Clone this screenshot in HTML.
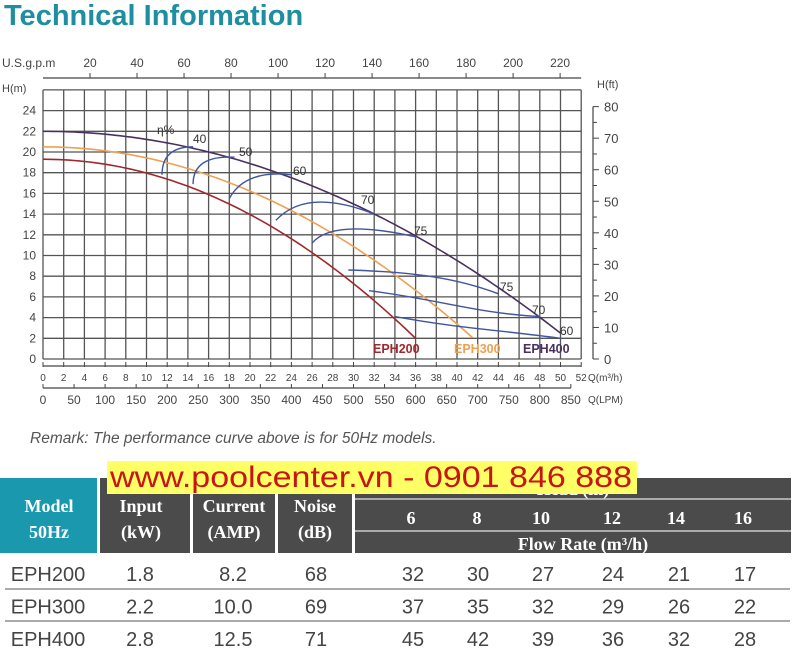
<!DOCTYPE html>
<html><head><meta charset="utf-8"><style>
body{margin:0;background:#fff;}
svg{display:block;font-family:"Liberation Sans",sans-serif;}
</style></head><body>
<svg id="s" width="800" height="658" viewBox="0 0 800 658" xmlns="http://www.w3.org/2000/svg">
<text x="4" y="25" font-size="29" font-weight="bold" fill="#1e8fa0">Technical Information</text>
<g id="g"></g>
<text x="30" y="443" font-size="15.5" font-style="italic" fill="#555">Remark: The performance curve above is for 50Hz models.</text>
<!-- table header -->
<rect x="0" y="478" width="97" height="75" fill="#1a98ad"/>
<rect x="100" y="478" width="90" height="75" fill="#4b4b4b"/>
<rect x="193" y="478" width="82" height="75" fill="#4b4b4b"/>
<rect x="278" y="478" width="74" height="75" fill="#4b4b4b"/>
<rect x="355" y="478" width="436" height="75" fill="#4b4b4b"/>
<rect x="355" y="498" width="436" height="2" fill="#aaa"/>
<rect x="355" y="530" width="436" height="2" fill="#aaa"/>
<g font-family="Liberation Serif,serif" font-weight="bold" font-size="18" fill="#fff" text-anchor="middle">
<text x="49" y="512">Model</text><text x="49" y="538">50Hz</text>
<text x="141" y="512">Input</text><text x="141" y="538">(kW)</text>
<text x="234" y="512">Current</text><text x="234" y="538">(AMP)</text>
<text x="315" y="512">Noise</text><text x="315" y="538">(dB)</text>
<text x="573" y="495">Head (m)</text>
<text x="411" y="524">6</text><text x="477" y="524">8</text><text x="541" y="524">10</text><text x="612" y="524">12</text><text x="676" y="524">14</text><text x="743" y="524">16</text>
<text x="583" y="550">Flow Rate (m³/h)</text>
</g>
<rect x="107" y="461" width="530" height="33" fill="#ffff66"/>
<text x="110" y="487" font-size="30" fill="#c81414" textLength="522" lengthAdjust="spacingAndGlyphs">www.poolcenter.vn - 0901 846 888</text>
<rect x="5" y="588" width="785" height="2" fill="#aaa"/>
<rect x="5" y="620" width="785" height="2" fill="#aaa"/>
<g id="rows" font-size="20" fill="#444" text-anchor="middle"></g>
</svg>
<script>
const NS="http://www.w3.org/2000/svg";
const g=document.getElementById('g');
function el(t,a,p){const e=document.createElementNS(NS,t);for(const k in a)e.setAttribute(k,a[k]);(p||g).appendChild(e);return e;}
function tx(x,y,s,a){const e=el('text',Object.assign({x:x,y:y},a||{}));e.textContent=s;return e;}
const X=q=>43+q*10.35, Y=h=>359-h*10.35;
// grid
for(let q=0;q<=52;q+=2) el('line',{x1:X(q),y1:Y(26),x2:X(q),y2:Y(0),stroke:'#555','stroke-width':1.3});
for(let h=0;h<=26;h+=2) el('line',{x1:X(0),y1:Y(h),x2:X(52),y2:Y(h),stroke:'#555','stroke-width':1.3});
// left labels
for(let h=0;h<=24;h+=2) tx(36,Y(h)+4,h,{'font-size':12,fill:'#444','text-anchor':'end'});
tx(2,92,'H(m)',{'font-size':11,fill:'#444'});
// top axis
el('line',{x1:X(0),y1:78,x2:X(52),y2:78,stroke:'#444','stroke-width':1.2});
tx(2,67,'U.S.g.p.m',{'font-size':12,fill:'#444'});
for(let g2=20;g2<=220;g2+=20){const x=X(g2*0.2271);el('line',{x1:x,y1:73,x2:x,y2:78,stroke:'#444'});tx(x,67,g2,{'font-size':12,fill:'#444','text-anchor':'middle'});}
// bottom m3/h
el('line',{x1:X(0),y1:366,x2:X(52),y2:366,stroke:'#444','stroke-width':1.2});
for(let q=0;q<=52;q+=2){el('line',{x1:X(q),y1:362,x2:X(q),y2:367,stroke:'#444'});tx(X(q),381,q,{'font-size':10,fill:'#444','text-anchor':'middle'});}
tx(588,381,'Q(m³/h)',{'font-size':10,fill:'#444'});
el('line',{x1:X(0),y1:388,x2:X(850/16.667),y2:388,stroke:'#444','stroke-width':1.2});
for(let l=0;l<=850;l+=50){const x=X(l/16.667);el('line',{x1:x,y1:384,x2:x,y2:388,stroke:'#444'});tx(x,404,l,{'font-size':12,fill:'#444','text-anchor':'middle'});}
tx(588,403,'Q(LPM)',{'font-size':10,fill:'#444'});
// right ft axis
el('line',{x1:593,y1:Y(80*0.3048),x2:593,y2:Y(0),stroke:'#444','stroke-width':1.2});
tx(597,88,'H(ft)',{'font-size':11,fill:'#444'});
for(let f=0;f<=80;f+=5){const y=Y(f*0.3048);el('line',{x1:593,y1:y,x2:f%10?597:599,y2:y,stroke:'#444'});if(f%10==0)tx(604,y+5,f,{'font-size':13,fill:'#444'});}
// pump curves
function curve(h0,k,qe,col){let d='';for(let q=0;q<=qe+0.01;q+=0.5){d+=(q?'L':'M')+X(q).toFixed(1)+','+Y(h0-k*q*q).toFixed(1);}el('path',{d:d,fill:'none',stroke:col,'stroke-width':1.6});}
curve(22,0.0078,50,'#4a3060');
curve(20.5,0.0107,41.5,'#f0a050');
curve(19.3,0.01335,36,'#a0282c');
// efficiency curves
const B='#4055a0';
function qp(a,c,b){el('path',{d:`M${X(a[0])},${Y(a[1])} Q${X(c[0])},${Y(c[1])} ${X(b[0])},${Y(b[1])}`,fill:'none',stroke:B,'stroke-width':1.4});}
qp([11.5,17.8],[11.5,20.5],[14.5,20.5]);
qp([14.5,16.9],[14.5,19.7],[18.5,19.5]);
qp([18,15.5],[19.5,18.3],[24,17.8]);
qp([22.5,13.4],[25.5,16.6],[32,14]);
qp([26,11.2],[28,13.6],[36,11.8]);
el('path',{d:`M${X(29.5)},${Y(8.6)} C${X(36)},${Y(8.4)} ${X(40)},${Y(7.8)} ${X(44)},${Y(6.3)}`,fill:'none',stroke:B,'stroke-width':1.4});
el('path',{d:`M${X(31.5)},${Y(6.6)} C${X(38)},${Y(5.8)} ${X(42)},${Y(4.4)} ${X(48)},${Y(4.1)}`,fill:'none',stroke:B,'stroke-width':1.4});
el('path',{d:`M${X(34)},${Y(4.1)} C${X(40)},${Y(3.0)} ${X(44)},${Y(2.8)} ${X(50)},${Y(2.0)}`,fill:'none',stroke:B,'stroke-width':1.4});
const L={'font-size':12,fill:'#333'};
tx(157,134,'η%',L);tx(193,143,'40',L);tx(239,156,'50',L);tx(293,175,'60',L);tx(361,204,'70',L);tx(414,235,'75',L);tx(500,291,'75',L);tx(532,314,'70',L);tx(560,335,'60',L);
tx(373,353,'EPH200',{'font-size':12.5,'font-weight':'bold',fill:'#a0282c'});
tx(454,353,'EPH300',{'font-size':12.5,'font-weight':'bold',fill:'#f0a050'});
tx(523,353,'EPH400',{'font-size':12.5,'font-weight':'bold',fill:'#4a3060'});
// rows
const rows=[['EPH200','1.8','8.2','68','32','30','27','24','21','17'],['EPH300','2.2','10.0','69','37','35','32','29','26','22'],['EPH400','2.8','12.5','71','45','42','39','36','32','28']];
const cx=[48,140,233,316,413,478,543,613,679,745];
const R=document.getElementById('rows');
rows.forEach((r,i)=>r.forEach((v,j)=>{const t=el('text',{x:cx[j],y:581+i*32.5},R);t.textContent=v;}));
</script>
</body></html>
